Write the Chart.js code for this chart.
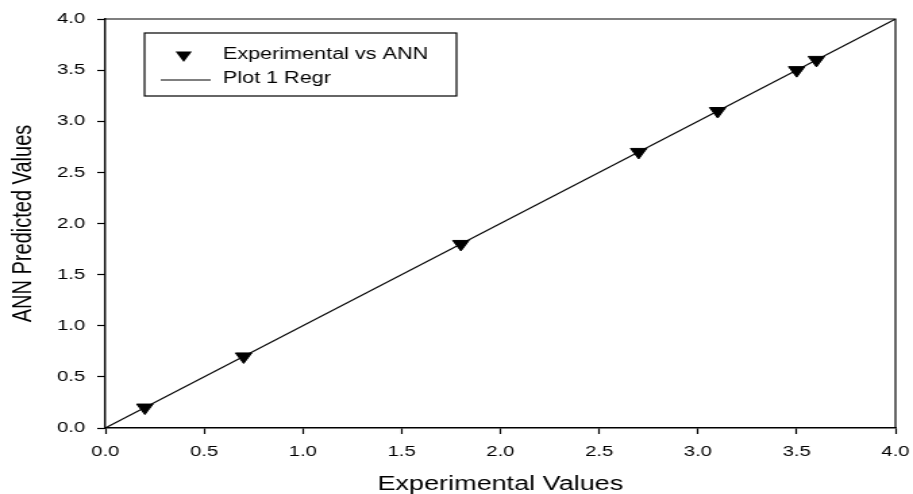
<!DOCTYPE html>
<html>
<head>
<meta charset="utf-8">
<script src="https://cdn.jsdelivr.net/npm/chart.js@4/dist/chart.umd.min.js"></script>
<style>
  html, body { margin: 0; padding: 0; background: #fff; }
  #wrap { width: 913px; height: 494px; }
  /* the original picture is stretched sideways, so the canvas is drawn narrower and scaled */
  #c { width: 913px; height: 494px; display: block; }
</style>
</head>
<body>
<div id="wrap"><canvas id="c" width="676" height="494" style="width:913px;height:494px"></canvas></div>
<script>
// data
var expValues = [0.2, 0.7, 1.8, 2.7, 3.1, 3.5, 3.6];
var annValues = [0.2, 0.7, 1.8, 2.7, 3.1, 3.5, 3.6];
var regrX = [0, 4];
var regrY = [0, 4];
var seriesNames = ['Experimental vs ANN', 'Plot 1 Regr'];
var xTitle = 'Experimental Values';
var yTitle = 'ANN Predicted Values';

var FONT = "'Liberation Sans', Arial, sans-serif";

function toPoints(xs, ys) {
    var out = [];
    for (var i = 0; i < xs.length; i++) {
        out.push({x: xs[i], y: ys[i]});
    }
    return out;
}

// frame on top/right + boxed legend inside the plot
var framePlugin = {
    id: 'frameLegend',
    afterDraw: function(chart) {
        var ctx = chart.ctx;
        var a = chart.chartArea;
        ctx.save();
        ctx.strokeStyle = '#000';
        ctx.lineWidth = 1.2;
        ctx.beginPath();
        ctx.moveTo(a.left, a.top);
        ctx.lineTo(a.right, a.top);
        ctx.lineTo(a.right, a.bottom);
        ctx.stroke();

        // legend box
        var bx = a.left + 29, by = a.top + 14, bw = 231, bh = 63;
        ctx.lineWidth = 1.2;
        ctx.strokeRect(bx, by, bw, bh);

        // triangle symbol
        var tx = a.left + 58, ty = a.top + 36, r = 7;
        ctx.fillStyle = '#000';
        ctx.beginPath();
        ctx.moveTo(tx, ty + r);
        ctx.lineTo(tx - r * 0.866, ty - r / 2);
        ctx.lineTo(tx + r * 0.866, ty - r / 2);
        ctx.closePath();
        ctx.fill();

        // line symbol
        ctx.lineWidth = 1;
        ctx.beginPath();
        ctx.moveTo(a.left + 41, a.top + 61);
        ctx.lineTo(a.left + 78, a.top + 61);
        ctx.stroke();

        ctx.font = '16px ' + FONT;
        ctx.textAlign = 'left';
        ctx.textBaseline = 'middle';
        ctx.fillText(seriesNames[0], a.left + 87, a.top + 36);
        ctx.fillText(seriesNames[1], a.left + 87, a.top + 60);
        ctx.restore();
    }
};

var axisLook = {
    type: 'linear',
    min: 0,
    max: 4,
    border: { display: true, color: '#000', width: 1.4 },
    grid: { drawOnChartArea: false, drawTicks: true, tickLength: 6, tickColor: '#000', tickWidth: 1.2 }
};

var chart = new Chart(document.getElementById('c'), {
    type: 'scatter',
    data: {
        datasets: [
            {
                label: seriesNames[0],
                data: toPoints(expValues, annValues),
                pointStyle: 'triangle',
                rotation: 180,
                radius: 7,
                hoverRadius: 7,
                backgroundColor: '#000',
                borderColor: '#000',
                borderWidth: 1,
                order: 1
            },
            {
                type: 'line',
                label: seriesNames[1],
                data: toPoints(regrX, regrY),
                borderColor: '#000',
                borderWidth: 1.1,
                pointRadius: 0,
                fill: false,
                order: 2
            }
        ]
    },
    options: {
        responsive: false,
        animation: false,
        devicePixelRatio: 1,
        layout: { padding: { left: 0, right: 13, top: 19, bottom: 0 } },
        plugins: {
            legend: { display: false },
            tooltip: { enabled: false }
        },
        scales: {
            x: Object.assign({}, axisLook, {
                position: 'bottom',
                ticks: {
                    stepSize: 0.5,
                    padding: 9,
                    color: '#000',
                    font: { family: FONT, size: 15 },
                    maxRotation: 0,
                    callback: function(v) { return v.toFixed(1); }
                },
                title: {
                    display: true,
                    text: xTitle,
                    color: '#000',
                    font: { family: FONT, size: 20, lineHeight: 1 },
                    padding: { top: 0, bottom: 0 }
                },
                afterFit: function(scale) {
                    scale.height = 66;
                    scale.paddingLeft = 0;
                    scale.paddingRight = 0;
                }
            }),
            y: Object.assign({}, axisLook, {
                position: 'left',
                ticks: {
                    stepSize: 0.5,
                    padding: 9,
                    color: '#000',
                    font: { family: FONT, size: 15 },
                    callback: function(v) { return v.toFixed(1); }
                },
                title: {
                    display: true,
                    text: yTitle,
                    color: '#000',
                    font: { family: FONT, size: 20 },
                    padding: { top: 5, bottom: 0 }
                },
                afterFit: function(scale) {
                    scale.width = 78;
                    scale.paddingTop = 0;
                    scale.paddingBottom = 0;
                }
            })
        }
    },
    plugins: [framePlugin]
});
</script>
</body>
</html>
